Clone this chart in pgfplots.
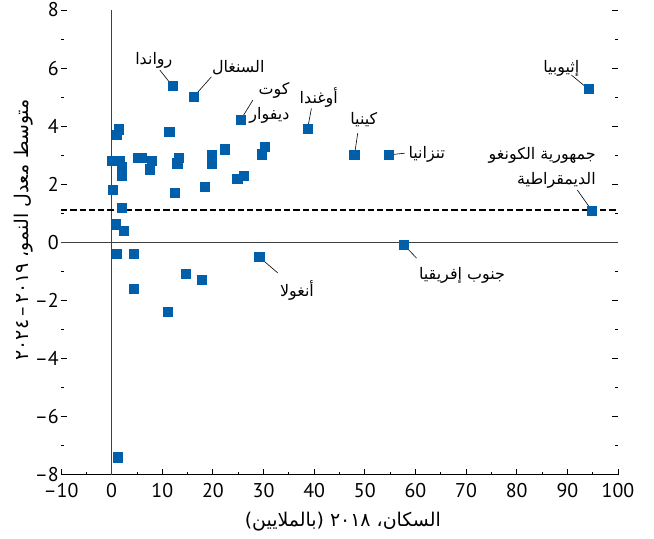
\documentclass[border=0pt]{standalone}
\usepackage{fontspec}
\setmainfont{PT Sans}
\newfontfamily\arabicfont[Script=Arabic]{DejaVu Sans}
\TeXXeTstate=1
\usepackage{pgfplots}
\pgfplotsset{compat=1.18}
\definecolor{pt}{RGB}{0,95,170}

\pgfplotstableread{
x y
12.03 5.38
16.2 5.01
25.5 4.22
38.7 3.91
47.96 3.01
54.7 3.01
94.2 5.27
94.9 1.08
57.7 -0.08
29.2 -0.51
1.43 3.89
0.98 3.69
11.4 3.81
0.1 2.81
1.64 2.81
2.1 2.60
2.1 2.28
5.25 2.91
6.0 2.91
7.9 2.81
7.55 2.51
13.3 2.91
13.0 2.72
19.8 3.00
19.8 2.72
22.3 3.20
30.2 3.29
29.6 3.03
0.2 1.82
12.5 1.71
18.4 1.91
24.85 2.19
26.2 2.28
1.97 1.20
0.79 0.62
2.37 0.39
0.99 -0.39
4.34 -0.39
4.34 -1.60
14.6 -1.08
17.75 -1.29
11.05 -2.39
1.18 -7.40
}\pts

\begin{document}
\begin{tikzpicture}
\begin{axis}[
  scale only axis, width=557.3bp, height=465bp,
  xmin=-10, xmax=100, ymin=-8, ymax=8,
  axis line style={draw=none},
  tick align=inside,
  xtick={-10,0,...,100}, minor xtick={-5,5,...,95},
  xticklabels={–10,0,10,20,30,40,50,60,70,80,90,100},
  ytick={-8,-6,...,8}, minor ytick={-7,-5,...,7},
  yticklabels={\raisebox{1.5bp}{–8},–6,–4,–2,0,2,4,6,8},
  xtick pos=left, ytick pos=both,
  major tick length=6bp, minor tick length=3bp,
  tick style={draw=black, line width=0.8bp},
  tick label style={font=\fontsize{20}{24}\selectfont},
  yticklabel style={inner sep=0pt, xshift=-2bp},
  xticklabel style={inner sep=0pt, yshift=-8.5bp},
  xlabel={\arabicfont\fontsize{19}{22}\selectfont\beginR السكان، ٢٠١٨ (بالملايين)\endR},
  ylabel={\arabicfont\fontsize{19}{22}\selectfont\beginR متوسط معدل النمو، ٢٠١٩\,–\,٢٠٢٤\endR},
  xlabel style={at={(axis description cs:0.506,-0.101)}, anchor=center},
  ylabel style={at={(axis description cs:-0.067,0.527)}, anchor=center},
  clip=false,
]
\coordinate (sw) at (rel axis cs:0,0);
\coordinate (ne) at (rel axis cs:1,1);
\draw[black, line width=0.8bp] (rel axis cs:0,0) -- (rel axis cs:1,0);
\addplot[black!75, line width=0.9bp] coordinates {(0,-8) (0,8)};
\addplot[black!75, line width=0.9bp] coordinates {(-10,0) (100,0)};
\addplot[black, line width=2bp, dash pattern=on 6.3bp off 3bp] coordinates {(-10,1.1) (100,1.1)};
% leaders
\begin{scope}[black, line width=0.6bp]
\draw (axis cs:9.53,5.93) -- (axis cs:12.03,5.38);
\draw (axis cs:19.7,5.70) -- (axis cs:16.2,5.01);
\draw (axis cs:27.9,4.90) -- (axis cs:25.5,4.22);
\draw (axis cs:39.45,4.61) -- (axis cs:38.7,3.91);
\draw (axis cs:48.6,3.76) -- (axis cs:47.96,3.01);
\draw (axis cs:57.85,3.07) -- (axis cs:54.7,3.01);
\draw (axis cs:90.8,5.76) -- (axis cs:94.2,5.27);
\draw (axis cs:91.97,1.80) -- (axis cs:94.9,1.08);
\draw (axis cs:60.2,-0.54) -- (axis cs:57.7,-0.08);
\draw (axis cs:32.8,-1.05) -- (axis cs:29.2,-0.51);
\end{scope}
\addplot[only marks, mark=square*, color=pt, mark size=4.6bp, mark options={fill=pt, draw=pt, line width=0.8bp}] table {\pts};
% labels
\begin{scope}[font=\arabicfont\fontsize{16}{19}\selectfont]
\node at (axis cs:8.33,6.28) {\beginR رواندا\endR};
\node at (axis cs:25.0,6.03) {\beginR السنغال\endR};
\node[anchor=east] at (axis cs:35.8,5.24) {\beginR كوت\endR};
\node[anchor=east] at (axis cs:35.8,4.38) {\beginR ديفوار\endR};
\node at (axis cs:40.9,5.0) {\beginR أوغندا\endR};
\node at (axis cs:49.8,4.21) {\beginR كينيا\endR};
\node[anchor=west, inner xsep=1bp] at (axis cs:58.4,3.04) {\beginR تنزانيا\endR};
\node at (axis cs:88.8,6.0) {\beginR إثيوبيا\endR};
\node[anchor=east] at (axis cs:96.3,3.0) {\beginR جمهورية الكونغو\endR};
\node[anchor=east] at (axis cs:96.3,2.14) {\beginR الديمقراطية\endR};
\node at (axis cs:69.2,-1.13) {\beginR جنوب إفريقيا\endR};
\node at (axis cs:36.6,-1.64) {\beginR أنغولا\endR};
\end{scope}
\end{axis}
\pgfresetboundingbox
\path ([shift={(-61bp,-64bp)}]sw) rectangle ([shift={(36bp,10bp)}]ne);
\end{tikzpicture}
\end{document}
